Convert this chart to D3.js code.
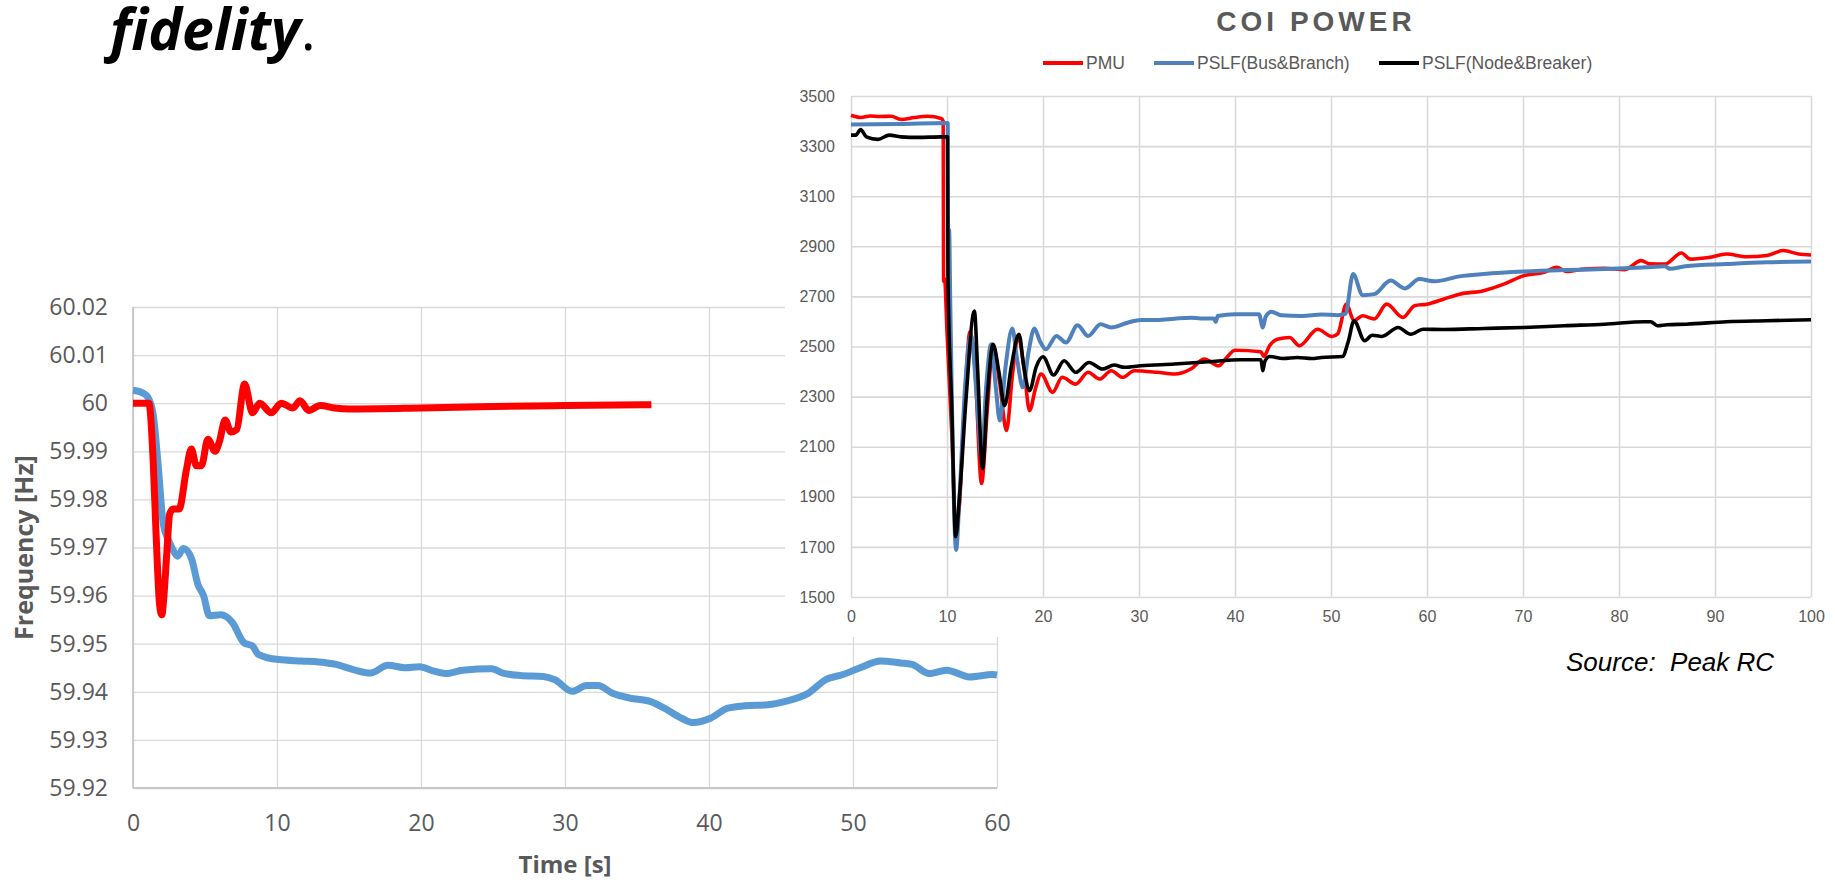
<!DOCTYPE html>
<html>
<head>
<meta charset="utf-8">
<script src="https://cdn.jsdelivr.net/npm/d3@7"></script>
<style>
	body { margin: 0; background: #fff; }
	svg { display: block; }
</style>
</head>
<body>
<svg id="chart" width="1835" height="882"></svg>
<script>
// ---- data: frequency chart (left) ----
var freqTickLabels = ['60.02', '60.01', '60', '59.99', '59.98', '59.97', '59.96', '59.95', '59.94', '59.93', '59.92'];
var freqTimeTicks = [0, 10, 20, 30, 40, 50, 60];

// [time s, Hz]
var pmuFreq = [
	[0, 60.0], [1.1, 60.0], [1.4, 59.988], [1.6, 59.973], [1.85, 59.958], [2.0, 59.956], [2.15, 59.96],
	[2.35, 59.969], [2.55, 59.977], [2.8, 59.978], [3.2, 59.978], [3.7, 59.986], [4.05, 59.9905],
	[4.4, 59.987], [4.75, 59.987], [5.2, 59.9925], [5.7, 59.99], [6.0, 59.992], [6.4, 59.9965],
	[6.8, 59.994], [7.2, 59.9945], [7.75, 60.004], [8.3, 59.998], [8.8, 60.0], [9.6, 59.998],
	[10.3, 60.0], [11.1, 59.999], [11.6, 60.0005], [12.2, 59.9985], [13.0, 59.9995], [14.0, 59.999],
	[15.0, 59.9988], [20, 59.999], [25, 59.9993], [30, 59.9995], [36, 59.9997]
];

var simFreq = [
	[0, 60.0027], [0.7, 60.0021], [1.04, 60.0012], [1.4, 59.9977], [1.74, 59.9874], [2.1, 59.9749],
	[2.43, 59.9718], [2.78, 59.9695], [3.1, 59.9682], [3.5, 59.9698], [4.05, 59.9678], [4.5, 59.9624],
	[4.9, 59.96], [5.3, 59.9558], [6.1, 59.956], [6.9, 59.9544], [7.7, 59.9502], [8.3, 59.9495],
	[8.7, 59.9478], [10.1, 59.9467], [11.7, 59.9464], [12.9, 59.9462], [14.1, 59.9457], [15.3, 59.9446],
	[16.5, 59.9439], [17.7, 59.9455], [18.9, 59.945], [19.9, 59.9452], [20.9, 59.9443], [21.7, 59.9438],
	[22.9, 59.9445], [24.9, 59.9448], [25.7, 59.9439], [26.9, 59.9434], [28.5, 59.9432], [29.3, 59.9425],
	[30.5, 59.9401], [31.5, 59.9413], [32.3, 59.9413], [33.3, 59.9397], [34.5, 59.9387], [35.9, 59.938],
	[36.9, 59.9366], [38.1, 59.9345], [38.9, 59.9336], [40.1, 59.9345], [41.3, 59.9366], [42.5, 59.9371],
	[44.1, 59.9373], [45.3, 59.938], [46.9, 59.9397], [48.1, 59.9425], [49.3, 59.9436], [50.5, 59.945],
	[51.9, 59.9464], [53.3, 59.946], [54.1, 59.9457], [55.3, 59.9438], [56.5, 59.9445], [58.1, 59.9431],
	[59.7, 59.9436], [60, 59.9435]
];

// ---- data: COI power chart (right) ----
var powerTicks = [1500, 1700, 1900, 2100, 2300, 2500, 2700, 2900, 3100, 3300, 3500];
var powerTimeTicks = [0, 10, 20, 30, 40, 50, 60, 70, 80, 90, 100];
var legendNames = ['PMU', 'PSLF(Bus&Branch)', 'PSLF(Node&Breaker)'];

// [time s, MW]
var pmuPower = [
	[0, 3423], [1, 3414], [2, 3420], [3, 3418], [4.2, 3419], [5.2, 3406], [6.6, 3414], [8, 3419],
	[9.4, 3410], [9.6, 3400], [9.65, 2760], [9.75, 2770], [10.0, 2560], [10.5, 2150], [10.9, 1800],
	[11.2, 1830], [11.8, 2250], [12.4, 2560], [12.9, 2420], [13.6, 1953], [14.2, 2250], [14.8, 2503],
	[15.5, 2350], [16.2, 2165], [16.8, 2380], [17.4, 2542], [18.0, 2420], [18.6, 2244], [19.2, 2330],
	[19.8, 2390], [21.0, 2317], [22.0, 2377], [23.4, 2350], [24.7, 2397], [25.9, 2370], [27.1, 2403],
	[28.3, 2377], [29.5, 2403], [31.9, 2397], [33.7, 2390], [35.4, 2410], [36.8, 2450], [38.3, 2423],
	[39.0, 2450], [40.0, 2485], [42.7, 2479], [43.0, 2460], [43.6, 2503], [44.4, 2529], [45.7, 2536],
	[46.7, 2503], [48.6, 2569], [50.1, 2540], [50.7, 2550], [51.6, 2669], [52.4, 2603], [53.3, 2623],
	[54.5, 2610], [55.8, 2669], [57.5, 2616], [58.7, 2663], [60, 2669], [61.7, 2689], [63.4, 2709],
	[65.9, 2723], [68, 2749], [70.1, 2783], [72.2, 2796], [73.5, 2816], [74.5, 2800], [76.4, 2809],
	[78.5, 2812], [80.6, 2807], [82.3, 2843], [83.2, 2830], [84.8, 2829], [86.5, 2873], [87.4, 2849],
	[89.5, 2856], [91.2, 2869], [93.3, 2858], [95.4, 2863], [97.1, 2883], [98.7, 2869], [100, 2865]
];

var busBranchPower = [
	[0, 3386], [5, 3388], [10.0, 3392], [10.08, 3392], [10.12, 2850], [10.22, 2966], [10.35, 2650],
	[10.95, 1688], [11.3, 1900], [11.9, 2350], [12.5, 2542], [13.1, 2300], [13.6, 2060], [14.1, 2350],
	[14.6, 2509], [15.1, 2330], [15.5, 2205], [16.1, 2420], [16.8, 2572], [17.3, 2450], [17.9, 2337],
	[18.5, 2480], [19.1, 2572], [19.7, 2520], [20.3, 2489], [21.4, 2542], [22.4, 2516], [23.6, 2585],
	[24.7, 2542], [26.0, 2589], [27.1, 2576], [28.8, 2595], [30.2, 2606], [31.9, 2606], [33.7, 2611],
	[35.4, 2615], [36.4, 2612], [37.8, 2612], [38.0, 2598], [38.2, 2622], [40.0, 2629], [42.5, 2629],
	[42.9, 2576], [43.2, 2620], [43.8, 2639], [44.8, 2625], [47, 2622], [49, 2628], [50.7, 2625],
	[51.5, 2630], [52.3, 2789], [53.3, 2705], [54.5, 2709], [56.2, 2763], [57.7, 2732], [59.2, 2769],
	[60.8, 2760], [63.4, 2780], [65.9, 2789], [70.1, 2799], [74.3, 2805], [78.5, 2809], [82.7, 2816],
	[84.8, 2820], [85.3, 2810], [86.9, 2820], [91.2, 2829], [95.4, 2836], [100, 2839]
];

var nodeBreakerPower = [
	[0, 3344], [0.5, 3344], [1.0, 3366], [1.6, 3337], [2.8, 3327], [4, 3344], [5.2, 3337], [7, 3335],
	[9.4, 3337], [10.05, 3337], [10.1, 2780], [10.5, 2250], [10.9, 1741], [11.3, 1900], [12.0, 2300],
	[12.85, 2642], [13.2, 2400], [13.7, 2012], [14.2, 2300], [14.8, 2509], [15.4, 2400], [16.0, 2264],
	[16.7, 2420], [17.5, 2549], [18.0, 2420], [18.6, 2324], [19.3, 2420], [20.0, 2459], [21.1, 2386],
	[22.2, 2443], [23.4, 2397], [24.8, 2436], [26.2, 2410], [27.4, 2426], [28.5, 2417], [30.2, 2423],
	[33.7, 2430], [37.2, 2439], [40.6, 2447], [42.7, 2447], [42.9, 2403], [43.1, 2440], [43.6, 2460],
	[45, 2452], [46.5, 2456], [48, 2452], [49, 2456], [51.2, 2460], [51.8, 2520], [52.4, 2603],
	[53.5, 2523], [54.3, 2545], [55.3, 2540], [57, 2576], [58.3, 2549], [59.6, 2569], [61.7, 2568],
	[65.9, 2572], [70.1, 2576], [74.3, 2583], [78.5, 2589], [82.7, 2599], [83.3, 2599], [84, 2583],
	[85, 2587], [87, 2589], [91.2, 2599], [95.4, 2603], [100, 2607]
];

var svg = d3.select('#chart');
var grid = '#d9d9d9';
var labelColor = '#595959';
var calibri = '"Open Sans", "Noto Sans", sans-serif';
var arial = '"Liberation Sans", Arial, sans-serif';

// ===========================================================================================
// left chart: frequency
var fx = d3.scaleLinear().domain([0, 60]).range([133, 997]);
var fy = d3.scaleLinear().domain([59.92, 60.02]).range([788, 307]);

var left = svg.append('g').attr('class', 'freq');

var fyAxis = d3.axisLeft(fy)
	.tickValues(freqTickLabels.map(Number))
	.tickFormat(function(d, i) { return freqTickLabels[i]; })
	.tickSize(-(fx.range()[1] - fx.range()[0]))
	.tickPadding(25);

var fxAxis = d3.axisBottom(fx)
	.tickValues(freqTimeTicks)
	.tickSize(-(fy.range()[0] - fy.range()[1]))
	.tickPadding(27);

left.append('g').attr('transform', 'translate(' + fx.range()[0] + ',0)').call(fyAxis);
left.append('g').attr('transform', 'translate(0,' + fy.range()[0] + ')').call(fxAxis);

left.selectAll('.domain').remove();
left.selectAll('.tick line').attr('stroke', grid).attr('stroke-width', 1.3);
left.selectAll('.tick text')
	.style('font-family', calibri)
	.style('font-size', '23px')
	.attr('fill', labelColor);

// axis lines
left.append('line')
	.attr('x1', fx(0)).attr('x2', fx(0))
	.attr('y1', fy(60.02)).attr('y2', fy(59.92))
	.attr('stroke', '#c6c6c6').attr('stroke-width', 1.8);
left.append('line')
	.attr('x1', fx(0)).attr('x2', fx(60))
	.attr('y1', fy(59.92)).attr('y2', fy(59.92))
	.attr('stroke', '#c6c6c6').attr('stroke-width', 1.8);

var freqLine = d3.line()
	.x(function(d) { return fx(d[0]); })
	.y(function(d) { return fy(d[1]); })
	.curve(d3.curveMonotoneX);

left.append('path').datum(simFreq)
	.attr('d', freqLine)
	.attr('fill', 'none')
	.attr('stroke', '#5b9bd5')
	.attr('stroke-width', 7)
	.attr('stroke-linejoin', 'round');

left.append('path').datum(pmuFreq)
	.attr('d', freqLine)
	.attr('fill', 'none')
	.attr('stroke', '#ff0000')
	.attr('stroke-width', 7)
	.attr('stroke-linejoin', 'round');

left.append('text')
	.attr('x', (fx.range()[0] + fx.range()[1]) / 2)
	.attr('y', 873)
	.attr('text-anchor', 'middle')
	.style('font-family', calibri)
	.style('font-size', '24px')
	.style('font-weight', 'bold')
	.attr('fill', labelColor)
	.text('Time [s]');

left.append('text')
	.attr('transform', 'translate(33,' + ((fy.range()[0] + fy.range()[1]) / 2) + ') rotate(-90)')
	.attr('text-anchor', 'middle')
	.style('font-family', calibri)
	.style('font-size', '25px')
	.style('font-weight', 'bold')
	.attr('fill', labelColor)
	.text('Frequency [Hz]');

// ===========================================================================================
// right chart: COI power, pasted on top of the left one
var right = svg.append('g').attr('class', 'power');

right.append('rect')
	.attr('x', 785).attr('y', 0)
	.attr('width', 1835 - 785).attr('height', 637)
	.attr('fill', '#fff');

var px = d3.scaleLinear().domain([0, 100]).range([851, 1811]);
var py = d3.scaleLinear().domain([1500, 3500]).range([597, 96]);

var pyAxis = d3.axisLeft(py)
	.tickValues(powerTicks)
	.tickFormat(d3.format('d'))
	.tickSize(-(px.range()[1] - px.range()[0]))
	.tickPadding(16);

var pxAxis = d3.axisBottom(px)
	.tickValues(powerTimeTicks)
	.tickFormat(d3.format('d'))
	.tickSize(-(py.range()[0] - py.range()[1]))
	.tickPadding(14);

right.append('g').attr('transform', 'translate(' + px.range()[0] + ',0)').call(pyAxis);
right.append('g').attr('transform', 'translate(0,' + py.range()[0] + ')').call(pxAxis);

right.selectAll('.domain').remove();
right.selectAll('.tick line').attr('stroke', grid).attr('stroke-width', 1.6);
right.selectAll('.tick text')
	.style('font-family', arial)
	.style('font-size', '16px')
	.attr('fill', labelColor);

var powerLine = d3.line()
	.x(function(d) { return px(d[0]); })
	.y(function(d) { return py(d[1]); })
	.curve(d3.curveMonotoneX);

var series = [
	{name: legendNames[0], data: pmuPower, color: '#ff0000', width: 3.6},
	{name: legendNames[1], data: busBranchPower, color: '#4f81bd', width: 4},
	{name: legendNames[2], data: nodeBreakerPower, color: '#000000', width: 3.6}
];

right.selectAll('.series')
	.data(series)
	.enter()
	.append('path')
	.attr('class', 'series')
	.attr('d', function(d) { return powerLine(d.data); })
	.attr('fill', 'none')
	.attr('stroke', function(d) { return d.color; })
	.attr('stroke-width', function(d) { return d.width; })
	.attr('stroke-linejoin', 'round');

right.append('text')
	.attr('x', 1316)
	.attr('y', 31)
	.attr('text-anchor', 'middle')
	.style('font-family', arial)
	.style('font-size', '28px')
	.style('font-weight', 'bold')
	.style('letter-spacing', '4px')
	.attr('fill', labelColor)
	.text('COI POWER');

// legend
var legendX = [1043, 1154, 1379];
var item = right.selectAll('.legend-item')
	.data(series)
	.enter()
	.append('g')
	.attr('class', 'legend-item')
	.attr('transform', function(d, i) { return 'translate(' + legendX[i] + ', 63)'; });

item.append('line')
	.attr('x1', 0).attr('x2', 40)
	.attr('stroke', function(d) { return d.color; })
	.attr('stroke-width', 4);

item.append('text')
	.attr('x', 43)
	.attr('y', 6)
	.style('font-family', arial)
	.style('font-size', '17.5px')
	.attr('fill', labelColor)
	.text(function(d) { return d.name; });

// ===========================================================================================
svg.append('text')
	.attr('x', 1566)
	.attr('y', 671)
	.style('font-family', arial)
	.style('font-size', '26px')
	.style('font-style', 'italic')
	.attr('fill', '#000')
	.text('Source:\u00a0 Peak RC');

var heading = svg.append('text')
	.attr('x', 110)
	.attr('y', 50)
	.style('font-family', calibri)
	.style('font-size', '57px')
	.attr('fill', '#000');
heading.append('tspan')
	.style('font-weight', 'bold')
	.style('font-style', 'italic')
	.text('fidelity');
heading.append('tspan').text('.');
</script>
</body>
</html>
